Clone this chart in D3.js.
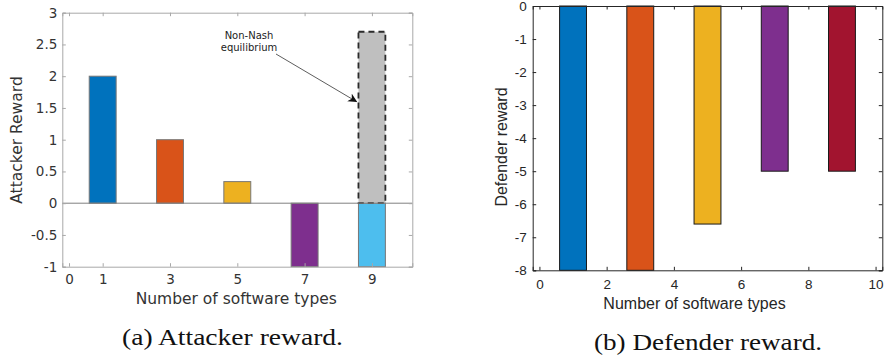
<!DOCTYPE html>
<html>
<head>
<meta charset="utf-8">
<script src="https://cdn.jsdelivr.net/npm/d3@7"></script>
<style>
  body { margin: 0; background: #fff; }
  svg { display: block; }
</style>
</head>
<body>
<svg id="chart" width="886" height="363"></svg>
<script>
// ---------- data ----------
const softwareTypes = [1, 3, 5, 7, 9];
const attackerReward = [2, 1, 0.34, -1, -1];
const nonNashType = 9;
const nonNashReward = 2.7;
const defenderReward = [-8, -8, -6.6, -5, -5];
const barColors = ["#0072BD", "#D95319", "#EDB120", "#7E2F8E", "#4DBEEE"];
const defenderColors = ["#0072BD", "#D95319", "#EDB120", "#7E2F8E", "#A2142F"];
const leftXTicks = [0, 1, 3, 5, 7, 9];
const leftYTicks = [-1, -0.5, 0, 0.5, 1, 1.5, 2, 2.5, 3];
const rightXTicks = [0, 2, 4, 6, 8, 10];
const rightYTicks = [0, -1, -2, -3, -4, -5, -6, -7, -8];
const xLabel = "Number of software types";
const leftYLabel = "Attacker Reward";
const rightYLabel = "Defender reward";
const captionA = "(a) Attacker reward.";
const captionB = "(b) Defender reward.";
const annotationLines = ["Non-Nash", "equilibrium"];
const barWidth = 0.8;

const svg = d3.select("#chart");
const fmt = v => String(v).replace("\u2212", "-");

// ---------- left chart ----------
(function () {
  const L = 62.3, R = 412.3, T = 12.7, B = 266.7;
  const font = "DejaVu Sans, sans-serif";
  const axisCol = "#a8a8a8";
  const textCol = "#333";
  const x = d3.scaleLinear().domain([-0.2, 10.2]).range([L, R]);
  const y = d3.scaleLinear().domain([-1, 3]).range([B, T]);
  const g = svg.append("g");

  // bars
  g.selectAll("rect.bar").data(softwareTypes).join("rect")
    .attr("x", d => x(d - barWidth / 2))
    .attr("width", d => x(d + barWidth / 2) - x(d - barWidth / 2))
    .attr("y", (d, i) => y(Math.max(0, attackerReward[i])))
    .attr("height", (d, i) => Math.abs(y(attackerReward[i]) - y(0)))
    .attr("fill", (d, i) => barColors[i])
    .attr("stroke", "#777").attr("stroke-width", 1);

  // non-Nash dashed bar
  g.append("rect")
    .attr("x", x(nonNashType - barWidth / 2))
    .attr("width", x(nonNashType + barWidth / 2) - x(nonNashType - barWidth / 2))
    .attr("y", y(nonNashReward))
    .attr("height", y(0) - y(nonNashReward))
    .attr("fill", "#bfbfbf")
    .attr("stroke", "#2b2b2b").attr("stroke-width", 1.8)
    .attr("stroke-dasharray", "6,4");

  // baseline
  g.append("line").attr("x1", L).attr("x2", R).attr("y1", y(0)).attr("y2", y(0))
    .attr("stroke", "#808080").attr("stroke-width", 1);

  // axes
  const ax = d3.axisBottom(x).tickValues(leftXTicks).tickFormat(fmt).tickSize(-3.5).tickPadding(8);
  const ay = d3.axisLeft(y).tickValues(leftYTicks).tickFormat(fmt).tickSize(-3.5).tickPadding(5);
  const axT = d3.axisTop(x).tickValues(leftXTicks).tickFormat("").tickSize(-3.5);
  const ayR = d3.axisRight(y).tickValues(leftYTicks).tickFormat("").tickSize(-3.5);
  [[ax, `translate(0,${B})`], [ay, `translate(${L},0)`], [axT, `translate(0,${T})`], [ayR, `translate(${R},0)`]]
    .forEach(([a, t]) => {
      const ag = g.append("g").attr("transform", t).call(a);
      ag.selectAll("path.domain").attr("stroke", axisCol);
      ag.selectAll(".tick line").attr("stroke", axisCol);
      ag.selectAll("text").attr("fill", textCol).style("font-family", font).style("font-size", "13.5px");
    });

  g.append("text").attr("x", (L + R) / 2 - 1).attr("y", 303.5).attr("text-anchor", "middle")
    .style("font-family", font).style("font-size", "15.5px").attr("fill", textCol).text(xLabel);
  g.append("text").attr("transform", `translate(22,140) rotate(-90)`).attr("text-anchor", "middle")
    .style("font-family", font).style("font-size", "15.5px").attr("fill", textCol).text(leftYLabel);

  // annotation
  const ann = g.append("text").attr("text-anchor", "middle")
    .style("font-family", font).style("font-size", "10px").attr("fill", "#222");
  annotationLines.forEach((s, i) => ann.append("tspan").attr("x", 249).attr("y", 39 + i * 12).text(s));
  const defs = svg.append("defs");
  defs.append("marker").attr("id", "arr").attr("viewBox", "0 0 10 10").attr("refX", 9).attr("refY", 5)
    .attr("markerWidth", 9).attr("markerHeight", 9).attr("markerUnits", "userSpaceOnUse").attr("orient", "auto")
    .append("path").attr("d", "M0,0 L10,5 L0,10 L3,5 Z").attr("fill", "#111");
  g.append("line").attr("x1", 276).attr("y1", 54)
    .attr("x2", x(nonNashType - barWidth / 2) - 2).attr("y2", y(1.6))
    .attr("stroke", "#333").attr("stroke-width", 0.8).attr("marker-end", "url(#arr)");
})();

// ---------- right chart ----------
(function () {
  const L = 532.7, R = 882.3, T = 6, B = 270.3;
  const font = "Liberation Sans, Arial, sans-serif";
  const axisCol = "#262626";
  const textCol = "#262626";
  const x = d3.scaleLinear().domain([-0.2, 10.2]).range([L, R]);
  const y = d3.scaleLinear().domain([-8, 0]).range([B, T]);
  const g = svg.append("g");

  g.selectAll("rect.bar").data(softwareTypes).join("rect")
    .attr("x", d => x(d - barWidth / 2))
    .attr("width", d => x(d + barWidth / 2) - x(d - barWidth / 2))
    .attr("y", y(0))
    .attr("height", (d, i) => y(defenderReward[i]) - y(0))
    .attr("fill", (d, i) => defenderColors[i])
    .attr("stroke", "#1a1a1a").attr("stroke-width", 1);

  const ax = d3.axisBottom(x).tickValues(rightXTicks).tickFormat(fmt).tickSize(-3.5).tickPadding(9);
  const ay = d3.axisLeft(y).tickValues(rightYTicks).tickFormat(fmt).tickSize(-3.5).tickPadding(6);
  const axT = d3.axisTop(x).tickValues(rightXTicks).tickFormat("").tickSize(-3.5);
  const ayR = d3.axisRight(y).tickValues(rightYTicks).tickFormat("").tickSize(-3.5);
  [[ax, `translate(0,${B})`], [ay, `translate(${L},0)`], [axT, `translate(0,${T})`], [ayR, `translate(${R},0)`]]
    .forEach(([a, t]) => {
      const ag = g.append("g").attr("transform", t).call(a);
      ag.selectAll("path.domain").attr("stroke", axisCol);
      ag.selectAll(".tick line").attr("stroke", axisCol);
      ag.selectAll("text").attr("fill", textCol).style("font-family", font).style("font-size", "13.5px");
    });

  g.append("text").attr("x", 694.5).attr("y", 309).attr("text-anchor", "middle")
    .style("font-family", font).style("font-size", "16px").attr("fill", textCol).text(xLabel);
  g.append("text").attr("transform", `translate(507,147) rotate(-90)`).attr("text-anchor", "middle")
    .style("font-family", font).style("font-size", "16px").attr("fill", textCol).text(rightYLabel);
})();

// ---------- captions ----------
const capFont = "Liberation Serif, DejaVu Serif, serif";
svg.append("text").attr("x", 122).attr("y", 345).attr("textLength", 221).attr("lengthAdjust", "spacingAndGlyphs")
  .style("font-family", capFont).style("font-size", "23px").attr("fill", "#111").text(captionA);
svg.append("text").attr("x", 594).attr("y", 350).attr("textLength", 228).attr("lengthAdjust", "spacingAndGlyphs")
  .style("font-family", capFont).style("font-size", "23px").attr("fill", "#111").text(captionB);
</script>
</body>
</html>
